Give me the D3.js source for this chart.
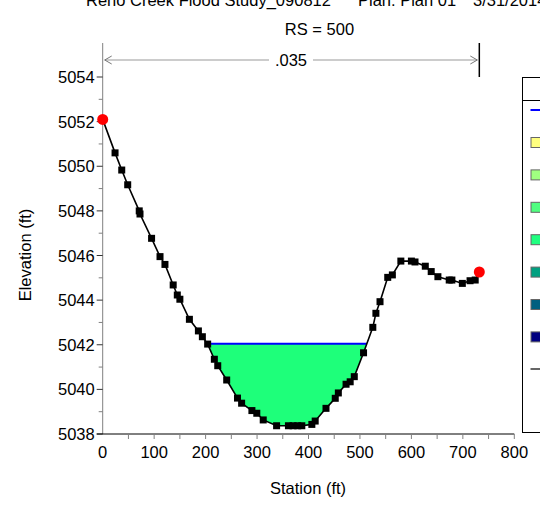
<!DOCTYPE html>
<html>
<head>
<meta charset="utf-8">
<script src="https://cdn.jsdelivr.net/npm/d3@7"></script>
<style>
    html, body { margin: 0; padding: 0; background: #fff; }
    text { font-family: "Liberation Sans", Arial, sans-serif; font-size: 16.5px; fill: #000; }
</style>
</head>
<body>
<svg id="svg" width="540" height="518"></svg>
<script>
    // ground profile (station ft, elevation ft)
    var station = [0, 24, 37, 48.6, 71, 72.5, 95, 111.4, 121, 137, 145, 150, 168.5, 186, 193.7, 204,
        217, 223.6, 241, 262, 270, 290, 299.5, 312, 338, 361, 370, 379, 387, 406.5, 413, 434, 452,
        458, 473, 481, 489, 507, 525, 531, 539, 554, 563, 579.5, 600, 607, 627, 638.5, 651.5,
        673.5, 678.7, 699, 714, 724, 732];
    var elevation = [5052.1, 5050.6, 5049.83, 5049.17, 5048.0, 5047.86, 5046.77, 5045.95, 5045.6, 5044.68,
        5044.23, 5044.04, 5043.14, 5042.62, 5042.36, 5042.03, 5041.35, 5041.06, 5040.42, 5039.61,
        5039.38, 5039.05, 5038.93, 5038.63, 5038.37, 5038.37, 5038.37, 5038.37, 5038.37, 5038.43,
        5038.58, 5039.15, 5039.6, 5039.84, 5040.23, 5040.34, 5040.57, 5041.64, 5042.78, 5043.41,
        5043.93, 5045.02, 5045.13, 5045.75, 5045.75, 5045.71, 5045.52, 5045.28, 5045.05, 5044.9,
        5044.9, 5044.75, 5044.87, 5044.9, 5045.26];
    var bankStations = [0, 732];
    var waterSurface = 5042.05;
    var manningN = ".035";
    var titleParts = ["Reno Creek Flood Study_090812", "Plan: Plan 01", "3/31/2014"];
    var xTicks = [0, 100, 200, 300, 400, 500, 600, 700, 800];
    var yTicks = [5038, 5040, 5042, 5044, 5046, 5048, 5050, 5052, 5054];
    var legendColors = ["#ffff80", "#a0ff80", "#50ff80", "#20ff80", "#00a080", "#006080", "#000080"];

    var svg = d3.select("#svg");
    var ground = station.map(function (s, i) { return { s: s, e: elevation[i] }; });

    var x = d3.scaleLinear().domain([0, 800]).range([102.7, 514.3]);
    var y = d3.scaleLinear().domain([5038, 5054]).range([434, 77]);
    var topY = 43;

    // titles (top line is cut by the window edge, as in the original)
    svg.selectAll(".title").data(titleParts).enter().append("text")
        .attr("x", function (d, i) { return [86, 358, 473][i]; }).attr("y", 6)
        .text(function (d) { return d; });
    svg.append("text").attr("x", 319.5).attr("y", 35)
        .attr("text-anchor", "middle").text("RS = " + 500);

    // water fill, clipped by area above ground
    var defs = svg.append("defs");
    defs.append("clipPath").attr("id", "aboveGround").append("path")
        .attr("d", d3.area().x(function (d) { return x(d.s); })
            .y0(function (d) { return y(d.e); }).y1(0)(ground));
    svg.append("rect")
        .attr("clip-path", "url(#aboveGround)")
        .attr("x", x(0)).attr("width", x(732) - x(0))
        .attr("y", y(waterSurface)).attr("height", y(5038) - y(waterSurface))
        .attr("fill", "#1eff7a");

    // water surface line across wetted width
    function crossings(level) {
        var pts = [];
        for (var i = 1; i < ground.length; i++) {
            var a = ground[i - 1], b = ground[i];
            if ((a.e - level) * (b.e - level) <= 0 && a.e !== b.e) {
                pts.push(a.s + (level - a.e) / (b.e - a.e) * (b.s - a.s));
            }
        }
        return pts;
    }
    var wsX = crossings(waterSurface);
    svg.append("line")
        .attr("x1", x(wsX[0])).attr("x2", x(wsX[wsX.length - 1]))
        .attr("y1", y(waterSurface)).attr("y2", y(waterSurface))
        .attr("stroke", "#0000ff").attr("stroke-width", 2);

    // axes
    var yAxis = svg.append("g").attr("transform", "translate(" + x(0) + ",0)");
    yAxis.append("line").attr("y1", topY).attr("y2", y(5038)).attr("stroke", "#808080");
    yAxis.selectAll(".minor").data(d3.range(5039, 5055, 2)).enter().append("line")
        .attr("x1", -4).attr("x2", 0).attr("y1", function (d) { return y(d); })
        .attr("y2", function (d) { return y(d); }).attr("stroke", "#808080");
    yAxis.selectAll(".major").data(yTicks).enter().append("line")
        .attr("x1", -6).attr("x2", 0).attr("y1", function (d) { return y(d); })
        .attr("y2", function (d) { return y(d); }).attr("stroke", "#333");
    yAxis.selectAll(".lbl").data(yTicks).enter().append("text")
        .attr("x", -8).attr("y", function (d) { return y(d) + 6; })
        .attr("text-anchor", "end").text(function (d) { return d; });

    var xAxis = svg.append("g").attr("transform", "translate(0," + y(5038) + ")");
    xAxis.append("line").attr("x1", x(0) - 6).attr("x2", x(800)).attr("stroke", "#000");
    xAxis.selectAll(".tick").data(d3.range(50, 801, 50)).enter().append("line")
        .attr("x1", function (d) { return x(d); }).attr("x2", function (d) { return x(d); })
        .attr("y1", 0).attr("y2", 5).attr("stroke", "#808080");
    xAxis.selectAll(".lbl").data(xTicks).enter().append("text")
        .attr("x", function (d) { return x(d); }).attr("y", 24)
        .attr("text-anchor", "middle").text(function (d) { return d; });

    svg.append("text").attr("x", 308).attr("y", 494)
        .attr("text-anchor", "middle").text("Station (ft)");
    svg.append("text").attr("transform", "translate(31,255) rotate(-90)")
        .attr("text-anchor", "middle").text("Elevation (ft)");

    // n-value bracket
    var arrowY = 60;
    svg.append("line").attr("x1", x(bankStations[1])).attr("x2", x(bankStations[1]))
        .attr("y1", topY).attr("y2", y(5054)).attr("stroke", "#000").attr("stroke-width", 1.5);
    var nMid = (x(bankStations[0]) + x(bankStations[1])) / 2;
    svg.append("line").attr("x1", x(bankStations[0]) + 2).attr("x2", nMid - 22)
        .attr("y1", arrowY).attr("y2", arrowY).attr("stroke", "#999");
    svg.append("line").attr("x1", nMid + 22).attr("x2", x(bankStations[1]) - 2)
        .attr("y1", arrowY).attr("y2", arrowY).attr("stroke", "#999");
    var aL = x(bankStations[0]) + 2, aR = x(bankStations[1]) - 2;
    svg.append("path").attr("d", "M" + (aL + 7) + "," + (arrowY - 4) + "L" + aL + "," + arrowY + "L" + (aL + 7) + "," + (arrowY + 4))
        .attr("fill", "none").attr("stroke", "#777");
    svg.append("path").attr("d", "M" + (aR - 7) + "," + (arrowY - 4) + "L" + aR + "," + arrowY + "L" + (aR - 7) + "," + (arrowY + 4))
        .attr("fill", "none").attr("stroke", "#777");
    svg.append("text").attr("x", nMid).attr("y", arrowY + 6)
        .attr("text-anchor", "middle").text(manningN);

    // ground line and points
    svg.append("path").datum(ground)
        .attr("d", d3.line().x(function (d) { return x(d.s); }).y(function (d) { return y(d.e); }))
        .attr("fill", "none").attr("stroke", "#000").attr("stroke-width", 1.6);
    svg.selectAll(".pt").data(ground.slice(1, -1)).enter().append("rect")
        .attr("x", function (d) { return x(d.s) - 3.5; }).attr("y", function (d) { return y(d.e) - 3.5; })
        .attr("width", 7).attr("height", 7).attr("fill", "#000");
    svg.selectAll(".bank").data([ground[0], ground[ground.length - 1]]).enter().append("circle")
        .attr("cx", function (d) { return x(d.s); }).attr("cy", function (d) { return y(d.e); })
        .attr("r", 5.5).attr("fill", "#ff0000");

    // legend (mostly cut off at the right edge)
    var lg = svg.append("g").attr("transform", "translate(522.5,77.5)");
    lg.append("rect").attr("width", 60).attr("height", 355).attr("fill", "#fff").attr("stroke", "#000");
    lg.append("line").attr("x1", 0).attr("x2", 60).attr("y1", 23).attr("y2", 23).attr("stroke", "#000");
    lg.append("line").attr("x1", 8).attr("x2", 30).attr("y1", 32.5).attr("y2", 32.5)
        .attr("stroke", "#0000ff").attr("stroke-width", 2);
    lg.selectAll(".sw").data(legendColors).enter().append("rect")
        .attr("x", 8.5).attr("y", function (d, i) { return 60 + i * 32.4; })
        .attr("width", 10).attr("height", 10).attr("fill", function (d) { return d; })
        .attr("stroke", "#666");
    lg.append("line").attr("x1", 8).attr("x2", 30).attr("y1", 291.5).attr("y2", 291.5)
        .attr("stroke", "#333").attr("stroke-width", 1.5);
</script>
</body>
</html>
